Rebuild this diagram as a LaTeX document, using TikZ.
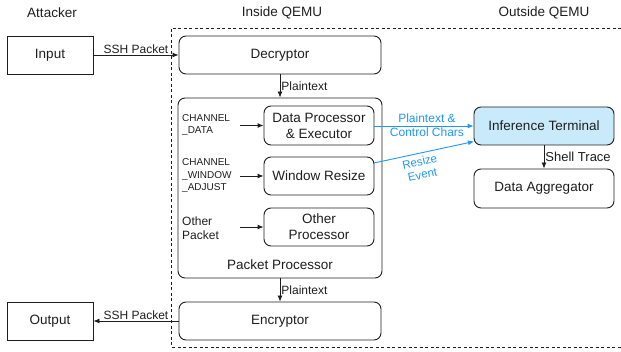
\documentclass[tikz,border=0pt]{standalone}
\usepackage{fontspec}
\setmainfont{Liberation Sans}
\usetikzlibrary{arrows.meta}
\definecolor{ink}{RGB}{30,30,30}
\definecolor{arrowblue}{RGB}{30,150,250}
\definecolor{infofill}{RGB}{200,234,251}
\begin{document}
\begin{tikzpicture}[x=1pt,y=-1pt,
  every node/.style={text=ink},
  box/.style={draw=ink,line width=0.9pt,inner sep=0pt,align=center,font=\fontsize{13.5}{16}\selectfont},
  rbox/.style={box,rounded corners=7pt},
  title/.style={font=\fontsize{13.5}{16}\selectfont},
  lbl/.style={font=\fontsize{12}{14}\selectfont,inner sep=1pt},
  chlbl/.style={font=\fontsize{10}{12.5}\selectfont,align=left,anchor=west,inner sep=0pt},
  conn/.style={draw=ink,line width=0.9pt,-{Latex[length=6pt,width=5pt]}},
  bconn/.style={draw=arrowblue,line width=0.9pt,-{Latex[length=6pt,width=5pt]}},
]
\useasboundingbox (0,0) rectangle (621,352);
% dashed region
\draw[ink,line width=0.8pt,dash pattern=on 3pt off 2.5pt] (621,28) -- (171,28) -- (171,347) -- (621,347);
% titles
\node[title] (tatt) at (52,13) {Attacker};
\node[title] (tin) at (282,13) {Inside QEMU};
\node[title] (tout) at (544,13) {Outside QEMU};
% boxes
\node[box,minimum width=86pt,minimum height=38pt] (input) at (50,55) {Input};
\node[box,minimum width=86pt,minimum height=38pt] (output) at (50,321) {Output};
\node[rbox,minimum width=202pt,minimum height=38pt] (dec) at (280,55) {Decryptor};
\node[rbox,minimum width=204pt,minimum height=180pt] (pp) at (280,188) {};
\node[title] (pplbl) at (280,265) {Packet Processor};
\node[rbox,minimum width=110pt,minimum height=39pt] (dp) at (319,125.5) {Data Processor\\\& Executor};
\node[rbox,minimum width=110pt,minimum height=38pt] (wr) at (319,176) {Window Resize};
\node[rbox,minimum width=110pt,minimum height=38pt] (op) at (319,227) {Other\\Processor};
\node[rbox,minimum width=202pt,minimum height=38pt] (enc) at (280,321) {Encryptor};
\node[rbox,fill=infofill,minimum width=140pt,minimum height=38pt] (inf) at (544,126) {Inference Terminal};
\node[rbox,minimum width=140pt,minimum height=39pt] (agg) at (544,188.5) {Data Aggregator};
% channel labels
\node[chlbl] (chd) at (182,125) {CHANNEL\\\_DATA};
\node[chlbl] (chw) at (182,176) {CHANNEL\\\_WINDOW\\\_ADJUST};
\node[chlbl,font=\fontsize{12}{13.5}\selectfont] (oth) at (182,228) {Other\\Packet};
\coordinate (s1) at (240,125.5);
\coordinate (s2) at (240,176);
\coordinate (s3) at (240,227);
\draw[conn] (s1) -- (dp.west);
\draw[conn] (s2) -- (wr.west);
\draw[conn] (s3) -- (op.west);
% main flow
\draw[conn] (input.east) -- node[lbl,above] {SSH Packet} (dec.west);
\draw[conn] (dec.south) -- node[lbl,right] {Plaintext} (pp.north);
\draw[conn] (pp.south) -- node[lbl,right] {Plaintext} (enc.north);
\draw[conn] (enc.west) -- node[lbl,above] {SSH Packet} (output.east);
% blue flows
\draw[bconn] (dp.east |- inf.west) -- (inf.west);
\node[lbl,text=arrowblue,align=center,font=\fontsize{12}{14.5}\selectfont] (bl1) at (427,125) {Plaintext \&\\Control Chars};
\coordinate (w1) at (374,163);
\coordinate (i1) at (474,141.5);
\draw[bconn] (w1) -- (i1);
\node[lbl,text=arrowblue,align=center,rotate=12,font=\fontsize{11.5}{13.5}\selectfont] (bl2) at (421,168) {Resize\\Event};
\draw[conn] (inf.south) -- node[lbl,right,font=\fontsize{13}{15}\selectfont] {Shell Trace} (agg.north);
\end{tikzpicture}
\end{document}
